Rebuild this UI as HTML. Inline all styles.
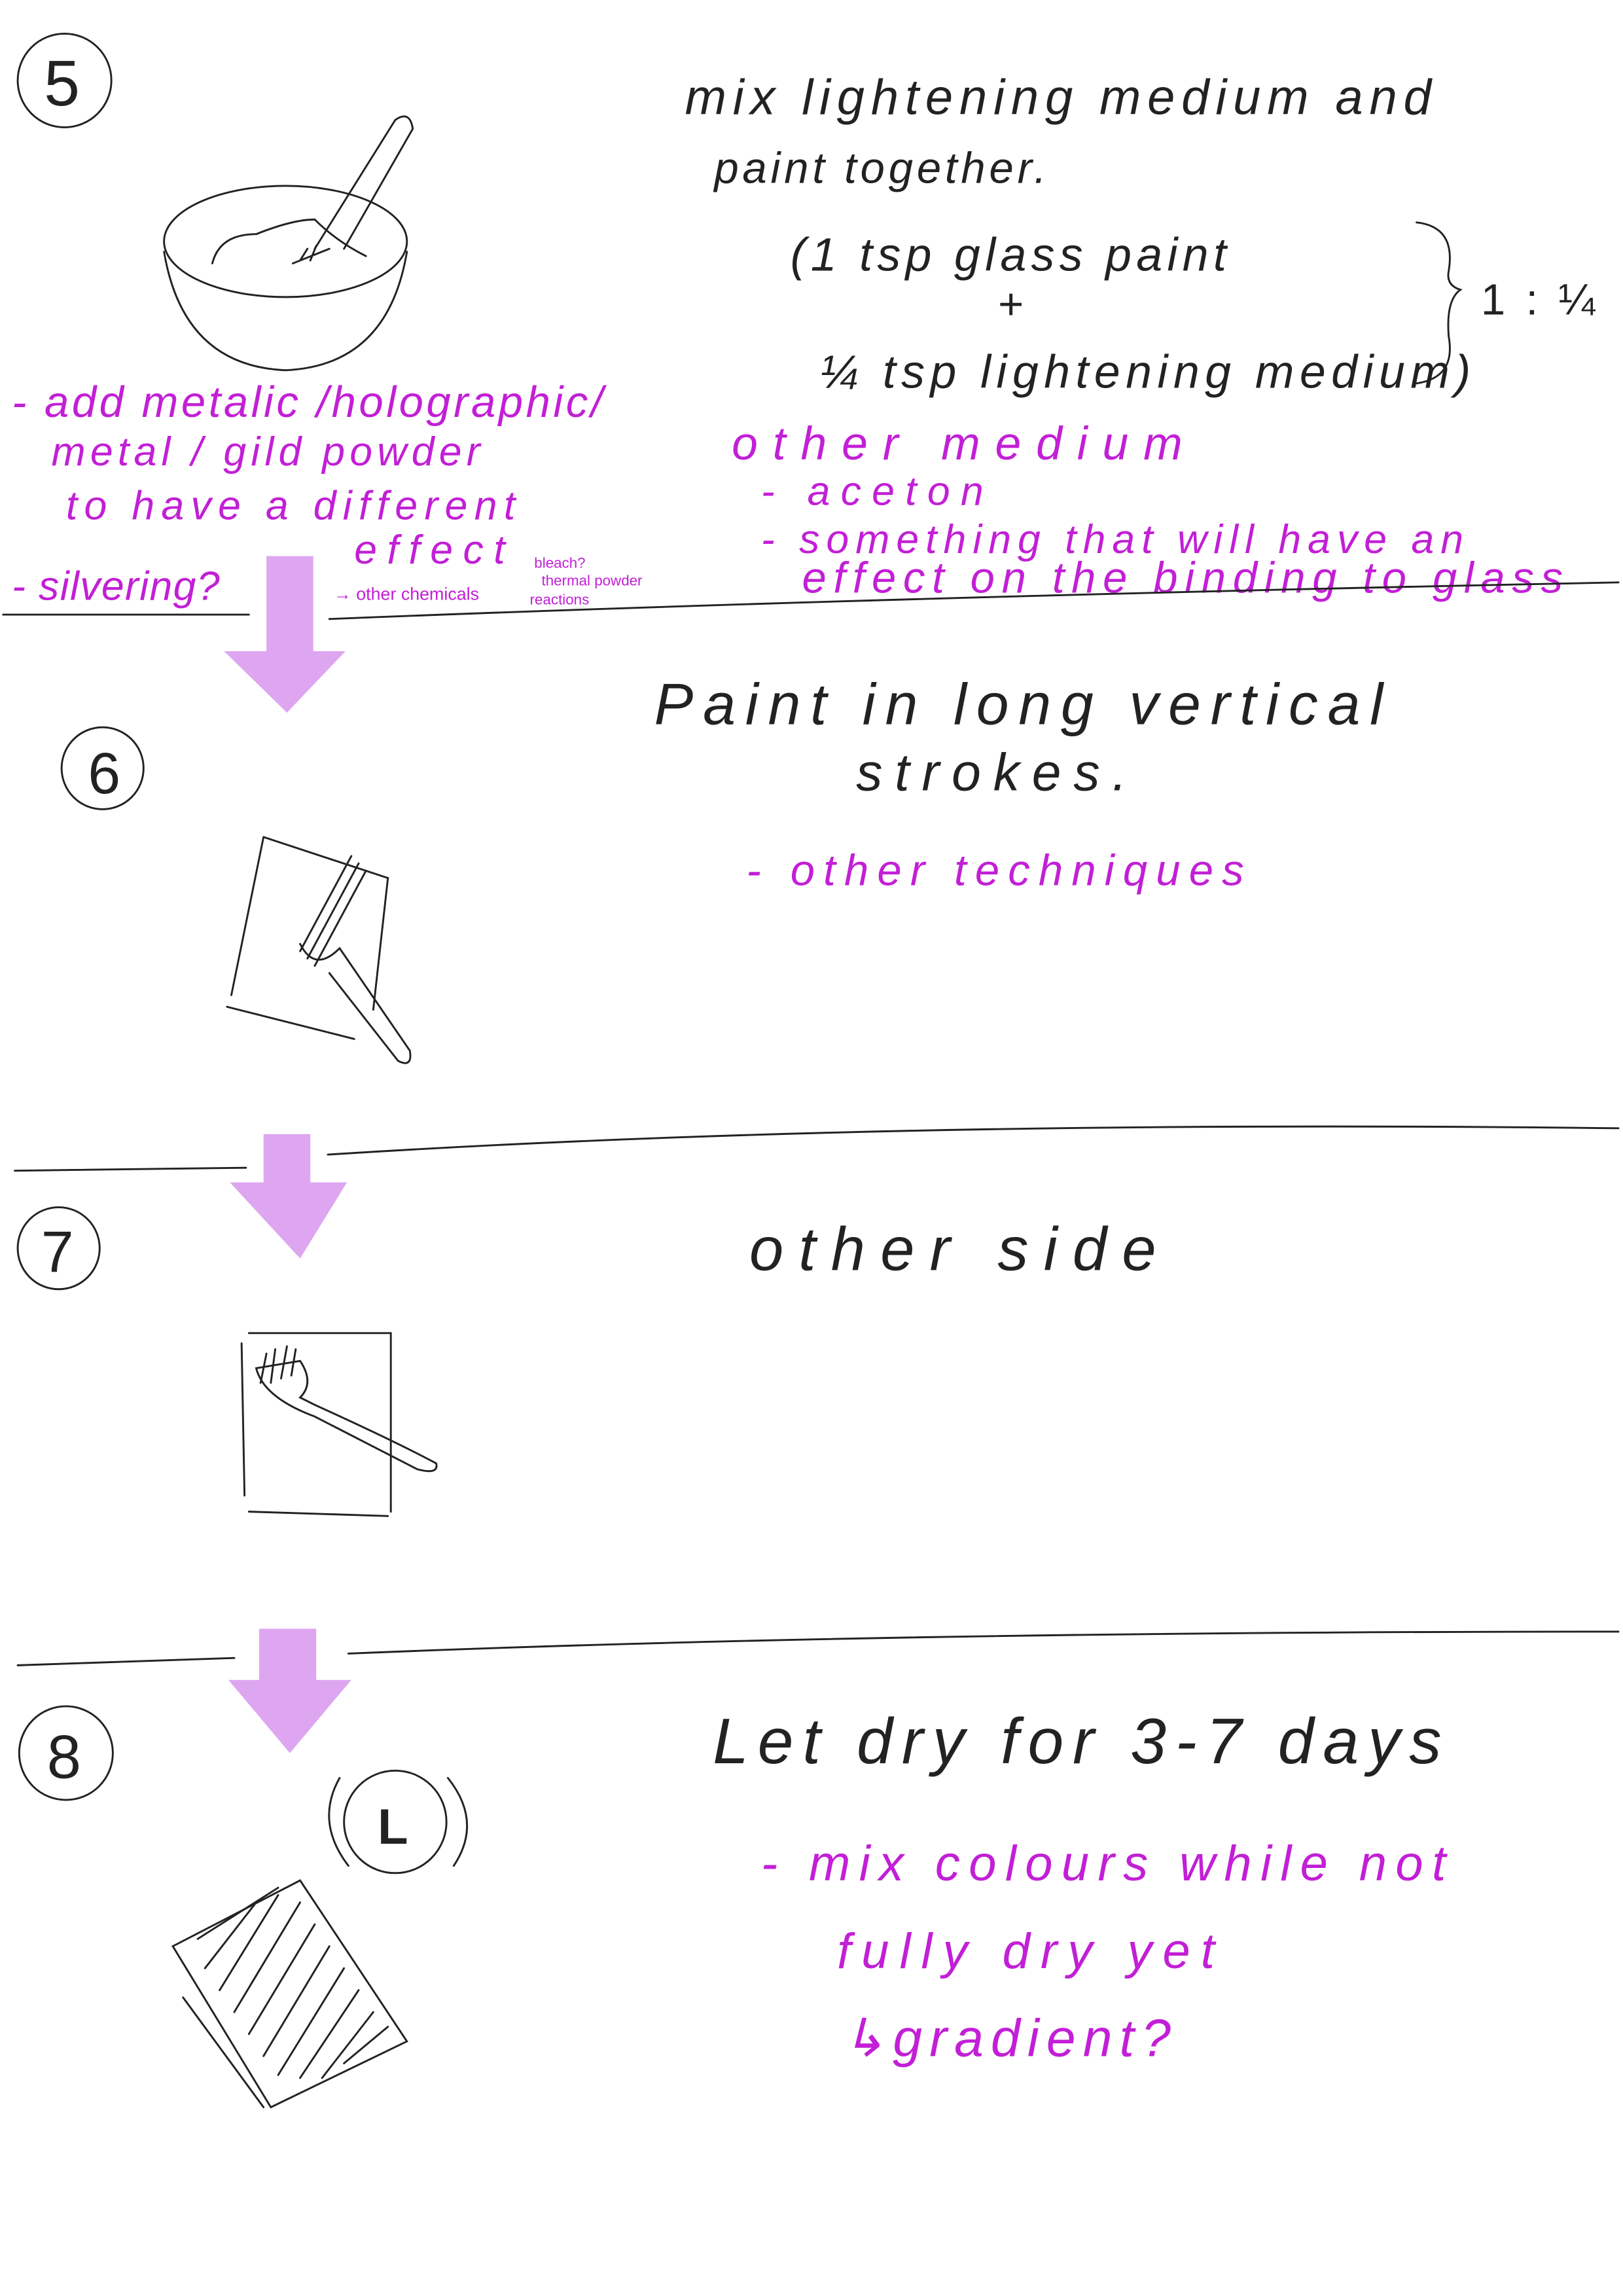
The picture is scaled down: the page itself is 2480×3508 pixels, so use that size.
<!DOCTYPE html>
<html><head><meta charset="utf-8"><style>
html,body{margin:0;padding:0;background:#fff;}
svg{display:block;}
text{font-family:"Liberation Sans",sans-serif;}
.k{fill:#222;}
.m{fill:#c21fd6;}
.l{stroke:#222;stroke-width:1.3;fill:none;stroke-linecap:round;}
</style></head><body>
<svg width="2480" height="3508" viewBox="0 0 1109 1569" xmlns="http://www.w3.org/2000/svg">
<rect width="1109" height="1569" fill="#fff"/>
<circle cx="44" cy="55" r="32" class="l"/><text x="30" y="72" font-size="44" class="k">5</text>
<circle cx="70" cy="525" r="28" class="l"/><text x="60" y="542" font-size="40" class="k">6</text>
<circle cx="40" cy="853" r="28" class="l"/><text x="28" y="869" font-size="40" class="k">7</text>
<circle cx="45" cy="1198" r="32" class="l"/><text x="32" y="1215" font-size="42" class="k">8</text>

<ellipse cx="195" cy="165" rx="83" ry="38" class="l"/>
<path d="M112 172 Q125 250 195 253 Q265 250 278 172" class="l"/>
<path d="M145 180 Q150 160 175 160 Q200 150 215 150 Q230 165 250 175" class="l"/>
<path d="M215 170 L270 82 Q280 75 282 88 L235 170" class="l"/>
<path d="M200 180 L225 170 M205 178 L210 170 M212 178 L216 168" class="l"/>

<text x="468" y="78" font-size="34" class="k" font-style="italic" textLength="510" lengthAdjust="spacing">mix  lightening  medium  and</text>
<text x="488" y="125" font-size="30" class="k" font-style="italic" textLength="227" lengthAdjust="spacing">paint  together.</text>
<text x="540" y="185" font-size="32" class="k" font-style="italic" textLength="298" lengthAdjust="spacing">(1 tsp  glass paint</text>
<text x="682" y="218" font-size="30" class="k">+</text>
<text x="560" y="265" font-size="32" class="k" font-style="italic" textLength="445" lengthAdjust="spacing">¼ tsp  lightening  medium)</text>
<path d="M968 152 Q995 155 990 185 Q988 195 998 198 Q988 205 990 230 Q995 258 968 262" class="l"/>
<text x="1012" y="215" font-size="30" class="k" textLength="78" lengthAdjust="spacing">1:¼</text>
<text x="500" y="314" font-size="32" class="m" font-style="italic" textLength="308" lengthAdjust="spacing">other medium</text>
<text x="520" y="345" font-size="28" class="m" font-style="italic" textLength="152" lengthAdjust="spacing">- aceton</text>
<text x="520" y="378" font-size="28" class="m" font-style="italic" textLength="480" lengthAdjust="spacing">- something  that will have an</text>
<text x="548" y="405" font-size="30" class="m" font-style="italic" textLength="520" lengthAdjust="spacing">effect on the binding to glass</text>

<text x="8" y="285" font-size="30" class="m" font-style="italic" textLength="404" lengthAdjust="spacing">- add metalic /holographic/</text>
<text x="35" y="318" font-size="28" class="m" font-style="italic" textLength="293" lengthAdjust="spacing">metal / gild powder</text>
<text x="45" y="355" font-size="28" class="m" font-style="italic" textLength="307" lengthAdjust="spacing">to have a different</text>
<text x="242" y="385" font-size="28" class="m" font-style="italic" textLength="103" lengthAdjust="spacing">effect</text>
<text x="8" y="410" font-size="28" class="m" font-style="italic" textLength="142" lengthAdjust="spacing">- silvering?</text>
<text x="228" y="410" font-size="12" class="m">→ other chemicals</text>
<text x="365" y="388" font-size="10" class="m">bleach?</text>
<text x="370" y="400" font-size="10" class="m">thermal powder</text>
<text x="362" y="413" font-size="10" class="m">reactions</text>

<path d="M2 420 L170 420 M225 423 Q600 408 1106 398" class="l"/>
<path d="M10 800 L168 798 M224 789 Q600 765 1106 771" class="l"/>
<path d="M12 1138 L160 1133 M238 1130 Q600 1115 1106 1115" class="l"/>

<path d="M182 380 L214 380 L214 445 L236 445 L196 487 L153 445 L182 445 Z" fill="#dea6f0"/>
<path d="M180 775 L212 775 L212 808 L237 808 L205 860 L157 808 L180 808 Z" fill="#dea6f0"/>
<path d="M177 1113 L216 1113 L216 1148 L240 1148 L198 1198 L156 1148 L177 1148 Z" fill="#dea6f0"/>

<text x="447" y="495" font-size="40" class="k" font-style="italic" textLength="498" lengthAdjust="spacing">Paint  in  long  vertical</text>
<text x="585" y="540" font-size="36" class="k" font-style="italic" textLength="185" lengthAdjust="spacing">strokes.</text>
<text x="510" y="605" font-size="30" class="m" font-style="italic" textLength="340" lengthAdjust="spacing">- other  techniques</text>
<path d="M180 572 L265 600 L255 690 M155 688 L242 710 M180 572 L158 680" class="l"/>
<path d="M205 650 L240 585 M210 655 L245 590 M215 660 L250 595" class="l"/>
<path d="M205 645 Q215 665 232 648 L280 718 Q282 730 272 725 L225 665" class="l"/>

<text x="512" y="868" font-size="42" class="k" font-style="italic" textLength="278" lengthAdjust="spacing">other  side</text>
<path d="M170 911 L267 911 L267 1033 M170 1033 L265 1036 M165 918 L167 1022" class="l"/>
<path d="M175 935 L205 930 Q215 945 205 955 L215 960 Q270 985 298 1000 Q300 1008 285 1004 L215 968 Q180 955 175 935 Z" class="l"/>
<path d="M178 945 L182 925 M185 945 L188 922 M192 942 L196 920 M199 940 L202 922" class="l"/>

<text x="487" y="1205" font-size="44" class="k" font-style="italic" textLength="498" lengthAdjust="spacing">Let dry  for  3-7  days</text>
<text x="520" y="1285" font-size="34" class="m" font-style="italic" textLength="468" lengthAdjust="spacing">- mix colours  while not</text>
<text x="572" y="1345" font-size="34" class="m" font-style="italic" textLength="258" lengthAdjust="spacing">fully  dry  yet</text>
<text x="575" y="1405" font-size="36" class="m" font-style="italic" textLength="225" lengthAdjust="spacing">↳gradient?</text>
<circle cx="270" cy="1245" r="35" class="l"/>
<text x="258" y="1260" font-size="34" class="k" font-weight="bold">L</text>
<path d="M232 1215 Q215 1245 238 1275 M306 1215 Q330 1245 310 1275" class="l"/>
<path d="M118 1330 L205 1285 L278 1395 L185 1440 Z" class="l"/>
<path d="M125 1365 L180 1440 M135 1325 L190 1290" class="l"/>
<path d="M140 1345 L175 1300 M150 1360 L190 1295 M160 1375 L205 1300 M170 1390 L215 1315 M180 1405 L225 1330 M190 1418 L235 1345 M205 1420 L245 1360 M220 1420 L255 1375 M235 1410 L265 1385" class="l"/>
</svg>
</body></html>
